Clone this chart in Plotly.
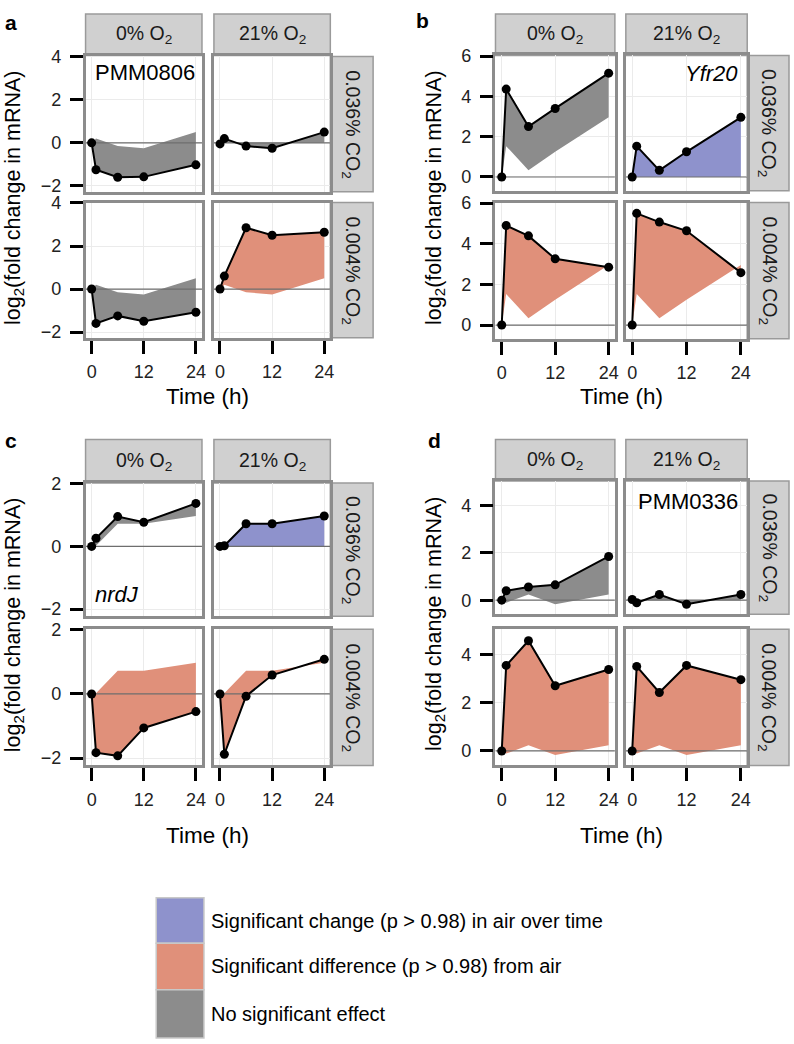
import plotly.graph_objects as go

W, H = 794, 1044
FONT = "Liberation Sans, Arial, sans-serif"

# ---------------- data ----------------
time = [0, 1, 6, 12, 24]

# Panel a: PMM0806   (air = 21% O2, 0.036% CO2)
a_air      = [-0.05, 0.2, -0.15, -0.25, 0.5]
a_anox     = [0, -1.25, -1.6, -1.58, -1.02]
a_anox_low = [0, -1.6, -1.25, -1.5, -1.08]
a_low      = [0, 0.6, 2.85, 2.5, 2.64]

# Panel b: Yfr20
b_air      = [0, 1.53, 0.33, 1.25, 2.96]
b_anox     = [0, 4.36, 2.5, 3.4, 5.15]
b_anox_low = [0, 4.9, 4.39, 3.26, 2.85]
b_low      = [0, 5.5, 5.07, 4.64, 2.58]

# Panel c: nrdJ
c_air      = [0, 0.02, 0.72, 0.72, 0.97]
c_anox     = [0, 0.26, 0.95, 0.77, 1.37]
c_anox_low = [0, -1.83, -1.93, -1.06, -0.55]
c_low      = [0, -1.88, -0.07, 0.59, 1.08]

# Panel d: PMM0336
d_air      = [0.03, -0.11, 0.24, -0.17, 0.24]
d_anox     = [0, 0.4, 0.56, 0.65, 1.85]
d_anox_low = [0, 3.54, 4.56, 2.7, 3.37]
d_low      = [0, 3.5, 2.42, 3.54, 2.95]

o2_labels = ["0% O<sub>2</sub>", "21% O<sub>2</sub>"]
co2_labels = ["0.036% CO<sub>2</sub>", "0.004% CO<sub>2</sub>"]
x_ticks = [0, 12, 24]

legend_labels = ["Significant change (p > 0.98) in air over time",
                 "Significant difference (p > 0.98) from air",
                 "No significant effect"]
legend_keys = ["blue", "orange", "gray"]

COLORS = {"blue": "#8e92cc", "orange": "#e0907a", "gray": "#8c8c8c"}

zeros = [0, 0, 0, 0, 0]
panels = {
    "a": dict(gene="PMM0806", italic=False, facets={
        (0, 0): (a_anox, a_air, "gray"), (0, 1): (a_air, zeros, "gray"),
        (1, 0): (a_anox_low, a_air, "gray"), (1, 1): (a_low, a_air, "orange")}),
    "b": dict(gene="Yfr20", italic=True, facets={
        (0, 0): (b_anox, b_air, "gray"), (0, 1): (b_air, zeros, "blue"),
        (1, 0): (b_anox_low, b_air, "orange"), (1, 1): (b_low, b_air, "orange")}),
    "c": dict(gene="nrdJ", italic=True, facets={
        (0, 0): (c_anox, c_air, "gray"), (0, 1): (c_air, zeros, "blue"),
        (1, 0): (c_anox_low, c_air, "orange"), (1, 1): (c_low, c_air, "orange")}),
    "d": dict(gene="PMM0336", italic=False, facets={
        (0, 0): (d_anox, d_air, "gray"), (0, 1): (d_air, zeros, "gray"),
        (1, 0): (d_anox_low, d_air, "orange"), (1, 1): (d_low, d_air, "orange")}),
}

# ---------------- layout geometry (pixels) ----------------
geo = {
    "a": dict(cols=[(86, 203), (215, 332)], rows=[(48, 185), (196, 333)],
              strip_top=(5, 47), strip_right=(332, 375),
              yr=[-2.27, 4.02], yt=[-2, 0, 2, 4], letter=(3, 14),
              ytitle_x=14, xtitle_y=392, gene_pos=(0, 0, 93, 64, "left")),
    "b": dict(cols=[(498, 618), (629, 751)], rows=[(47, 184), (196, 334)],
              strip_top=(5, 47), strip_right=(751, 793),
              yr=[-0.68, 6.03], yt=[0, 2, 4, 6], letter=(416, 12),
              ytitle_x=437, xtitle_y=392, gene_pos=(0, 1, 744, 65, "right")),
    "c": dict(cols=[(86, 203), (215, 332)], rows=[(480, 615), (628, 766)],
              strip_top=(436, 480), strip_right=(332, 375),
              yr=[-2.23, 2.02], yt=[-2, 0, 2], letter=(3, 437),
              ytitle_x=14, xtitle_y=837, gene_pos=(0, 0, 93, 593, "left")),
    "d": dict(cols=[(498, 618), (629, 751)], rows=[(478, 613), (628, 766)],
              strip_top=(436, 478), strip_right=(751, 793),
              yr=[-0.6, 5.04], yt=[0, 2, 4], letter=(428, 437),
              ytitle_x=437, xtitle_y=837, gene_pos=(0, 1, 744, 499, "right")),
}
XR = [-1.4, 25.4]

def px(x):
    return x / W

def py(y):
    return 1 - y / H

fig = go.Figure()
layout = {}
shapes = []
annotations = []
n = 0
for key, p in panels.items():
    g = geo[key]
    for (r, c), (vals, ref, cat) in p["facets"].items():
        n += 1
        xa = "x" if n == 1 else f"x{n}"
        ya = "y" if n == 1 else f"y{n}"
        x0, x1 = g["cols"][c]
        y0, y1 = g["rows"][r]
        bottom = r == 1
        left = c == 0
        layout["xaxis" if n == 1 else f"xaxis{n}"] = dict(
            domain=[px(x0), px(x1)], range=XR, anchor=ya,
            tickmode="array", tickvals=x_ticks, showticklabels=bottom,
            ticks="outside" if bottom else "", ticklen=13, tickwidth=3, tickcolor="black",
            ticklabelstandoff=3,
            showgrid=True, gridcolor="#ebebeb", gridwidth=1, zeroline=False,
            showline=True, mirror=True, linecolor="#8c8c8c", linewidth=2.5,
            tickfont=dict(size=18, color="#222", family=FONT), fixedrange=True)
        layout["yaxis" if n == 1 else f"yaxis{n}"] = dict(
            domain=[py(y1), py(y0)], range=g["yr"], anchor=xa,
            tickmode="array", tickvals=g["yt"], showticklabels=left,
            ticks="outside" if left else "", ticklen=13, tickwidth=3, tickcolor="black",
            ticklabelstandoff=5,
            showgrid=True, gridcolor="#ebebeb", gridwidth=1, zeroline=False,
            showline=True, mirror=True, linecolor="#8c8c8c", linewidth=2.5,
            tickfont=dict(size=18, color="#222", family=FONT), fixedrange=True)
        # shaded polygon between the condition and its reference
        fig.add_trace(go.Scatter(
            x=time + time[::-1], y=vals + ref[::-1], fill="toself", mode="lines",
            line=dict(width=0), fillcolor=COLORS[cat], hoverinfo="skip",
            showlegend=False, xaxis=xa, yaxis=ya))
        # zero reference line
        fig.add_trace(go.Scatter(
            x=XR, y=[0, 0], mode="lines", line=dict(color="#6e6e6e", width=1.2),
            hoverinfo="skip", showlegend=False, xaxis=xa, yaxis=ya))
        # measured time course
        fig.add_trace(go.Scatter(
            x=time, y=vals, mode="lines+markers",
            line=dict(color="black", width=2), marker=dict(color="black", size=9),
            showlegend=False, xaxis=xa, yaxis=ya))
    # strips on top
    for c in range(2):
        x0, x1 = g["cols"][c]
        s0, s1 = g["strip_top"]
        shapes.append(dict(type="rect", xref="paper", yref="paper",
                           x0=px(x0), x1=px(x1), y0=py(s1), y1=py(s0),
                           fillcolor="#d0d0d0", line=dict(color="#9a9a9a", width=1.5),
                           layer="below"))
        annotations.append(dict(xref="paper", yref="paper", x=px((x0 + x1) / 2),
                                y=py((s0 + s1) / 2), text=o2_labels[c], showarrow=False,
                                font=dict(size=19.5, color="#1a1a1a", family=FONT),
                                xanchor="center", yanchor="middle"))
    # strips on the right
    for r in range(2):
        y0, y1 = g["rows"][r]
        s0, s1 = g["strip_right"]
        shapes.append(dict(type="rect", xref="paper", yref="paper",
                           x0=px(s0), x1=px(s1), y0=py(y1), y1=py(y0),
                           fillcolor="#d0d0d0", line=dict(color="#9a9a9a", width=1.5),
                           layer="below"))
        annotations.append(dict(xref="paper", yref="paper", x=px((s0 + s1) / 2),
                                y=py((y0 + y1) / 2), text=co2_labels[r], showarrow=False,
                                textangle=90,
                                font=dict(size=19.5, color="#1a1a1a", family=FONT),
                                xanchor="center", yanchor="middle"))
    # panel letter
    lx, ly = g["letter"]
    annotations.append(dict(xref="paper", yref="paper", x=px(lx), y=py(ly),
                            text=f"<b>{key}</b>", showarrow=False,
                            font=dict(size=21, color="black", family=FONT),
                            xanchor="left", yanchor="middle"))
    # y title
    ytop, ybot = g["rows"][0][0], g["rows"][1][1]
    annotations.append(dict(xref="paper", yref="paper", x=px(g["ytitle_x"]),
                            y=py((ytop + ybot) / 2),
                            text="log<sub>2</sub>(fold change in mRNA)", showarrow=False,
                            textangle=-90, font=dict(size=21.5, color="black", family=FONT),
                            xanchor="center", yanchor="middle"))
    # x title
    xl, xr = g["cols"][0][0], g["cols"][1][1]
    annotations.append(dict(xref="paper", yref="paper", x=px((xl + xr) / 2),
                            y=py(g["xtitle_y"]), text="Time (h)", showarrow=False,
                            font=dict(size=22.5, color="black", family=FONT),
                            xanchor="center", yanchor="middle"))
    # gene label
    gr, gc, gx, gy, anch = g["gene_pos"]
    gtext = f"<i>{p['gene']}</i>" if p["italic"] else p["gene"]
    annotations.append(dict(xref="paper", yref="paper", x=px(gx), y=py(gy),
                            text=gtext, showarrow=False,
                            font=dict(size=22, color="black", family=FONT),
                            xanchor=anch, yanchor="middle"))

# ---------------- legend ----------------
leg_rows = [(900, 946), (946, 993), (993, 1042)]
for (t0, t1), lab, k in zip(leg_rows, legend_labels, legend_keys):
    shapes.append(dict(type="rect", xref="paper", yref="paper",
                       x0=px(157), x1=px(205), y0=py(t1), y1=py(t0),
                       fillcolor=COLORS[k], line=dict(color="#c8c8c8", width=1.5)))
    annotations.append(dict(xref="paper", yref="paper", x=px(210), y=py((t0 + t1) / 2),
                            text=lab, showarrow=False,
                            font=dict(size=20, color="black", family=FONT),
                            xanchor="left", yanchor="middle"))

fig.update_layout(
    width=W, height=H, margin=dict(l=0, r=0, t=0, b=0),
    paper_bgcolor="white", plot_bgcolor="white",
    font=dict(family=FONT), shapes=shapes, annotations=annotations,
    showlegend=False, **layout)

fig.write_html("out.html",
               config={"displayModeBar": False},
               post_script="document.body.style.margin='0px';"
                           "document.body.style.overflow='hidden';")
